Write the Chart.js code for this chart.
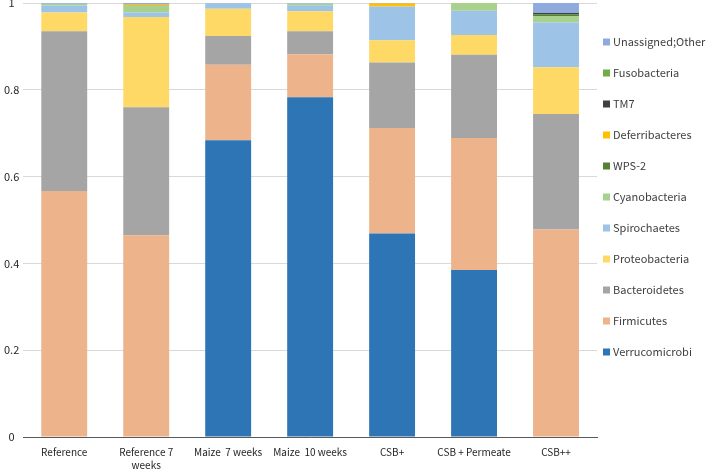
<!DOCTYPE html>
<html>
<head>
<meta charset="utf-8">
<script src="https://cdn.jsdelivr.net/npm/chart.js@4.4.0/dist/chart.umd.min.js"></script>
<style>
  html, body { margin: 0; padding: 0; background: #fff; }
  #wrap { width: 709px; height: 471px; }
</style>
</head>
<body>
<div id="wrap"><canvas id="grafico"></canvas></div>
<script>
// categorias do eixo X
const categorias = ['Reference', ['Reference 7', 'weeks'], 'Maize  7 weeks', 'Maize  10 weeks', 'CSB+', 'CSB + Permeate', 'CSB++'];

// abundância relativa por filo
const verrucomicrobi = [0, 0, 0.684, 0.783, 0.469, 0.385, 0];
const firmicutes     = [0.567, 0.465, 0.174, 0.099, 0.243, 0.304, 0.478];
const bacteroidetes  = [0.368, 0.295, 0.066, 0.053, 0.151, 0.192, 0.266];
const proteobacteria = [0.043, 0.208, 0.063, 0.046, 0.051, 0.045, 0.108];
const spirochaetes   = [0.016, 0.010, 0.012, 0.014, 0.078, 0.056, 0.103];
const cyanobacteria  = [0.004, 0.015, 0, 0.004, 0, 0.018, 0.015];
const wps2           = [0, 0, 0, 0, 0, 0, 0.004];
const deferribacteres = [0, 0.003, 0, 0, 0.007, 0, 0];
const tm7            = [0, 0, 0, 0, 0, 0, 0.003];
const fusobacteria   = [0, 0, 0, 0, 0, 0, 0];
const unassigned     = [0.002, 0.004, 0.001, 0.001, 0.001, 0.001, 0.023];

const ticksY = [0, 0.2, 0.4, 0.6, 0.8, 1];

const fonte = "'Noto Sans CJK SC', 'Noto Sans', sans-serif";

function serie(label, data, cor) {
    return { label: label, data: data, backgroundColor: cor, borderWidth: 0 };
}

// legenda desenhada à direita, ordem invertida (último filo em cima)
const legendaLateral = {
    id: 'legendaLateral',
    afterDraw(chart) {
        const c = chart.ctx;
        const ds = chart.data.datasets;
        const x0 = chart.chartArea.right + 6;
        c.save();
        c.font = '11px ' + fonte;
        c.textBaseline = 'middle';
        c.textAlign = 'left';
        for (let k = 0; k < ds.length; k++) {
            const d = ds[ds.length - 1 - k];
            const y = 42 + k * 31;
            c.fillStyle = d.backgroundColor;
            c.fillRect(x0, y - 3.5, 7, 7);
            c.fillStyle = '#404040';
            c.fillText(d.label, x0 + 10, y);
        }
        c.restore();
    }
};

const ctx = document.getElementById('grafico').getContext('2d');
new Chart(ctx, {
    type: 'bar',
    data: {
        labels: categorias,
        datasets: [
            serie('Verrucomicrobi', verrucomicrobi, '#2E75B6'),
            serie('Firmicutes', firmicutes, '#EDB38A'),
            serie('Bacteroidetes', bacteroidetes, '#A5A5A5'),
            serie('Proteobacteria', proteobacteria, '#FFD966'),
            serie('Spirochaetes', spirochaetes, '#9DC3E6'),
            serie('Cyanobacteria', cyanobacteria, '#A9D18E'),
            serie('WPS-2', wps2, '#548235'),
            serie('Deferribacteres', deferribacteres, '#FFC000'),
            serie('TM7', tm7, '#404040'),
            serie('Fusobacteria', fusobacteria, '#70AD47'),
            serie('Unassigned;Other', unassigned, '#8FAADC')
        ]
    },
    plugins: [legendaLateral],
    options: {
        responsive: true,
        maintainAspectRatio: false,
        animation: false,
        layout: { padding: { top: 3, right: 112, left: 0, bottom: 0 } },
        datasets: { bar: { categoryPercentage: 1, barPercentage: 0.56 } },
        plugins: {
            tooltip: { enabled: false },
            legend: { display: false }
        },
        scales: {
            x: {
                stacked: true,
                afterFit: (eixo) => { eixo.height = 34; },
                grid: { display: false, drawTicks: false },
                border: { color: '#595959', width: 1 },
                ticks: {
                    color: '#262626',
                    font: { family: fonte, size: 10, lineHeight: 1.3 },
                    padding: 9, maxRotation: 0, autoSkip: false
                }
            },
            y: {
                stacked: true,
                min: 0,
                max: 1,
                afterBuildTicks: (eixo) => { eixo.ticks = ticksY.map(v => ({ value: v })); },
                afterFit: (eixo) => { eixo.paddingTop = 0; },
                grid: { color: '#D9D9D9', drawTicks: false },
                border: { display: false },
                ticks: {
                    color: '#262626',
                    font: { family: fonte, size: 11 },
                    padding: 4,
                    crossAlign: 'center',
                    callback: (v) => String(v)
                }
            }
        }
    }
});
</script>
</body>
</html>
